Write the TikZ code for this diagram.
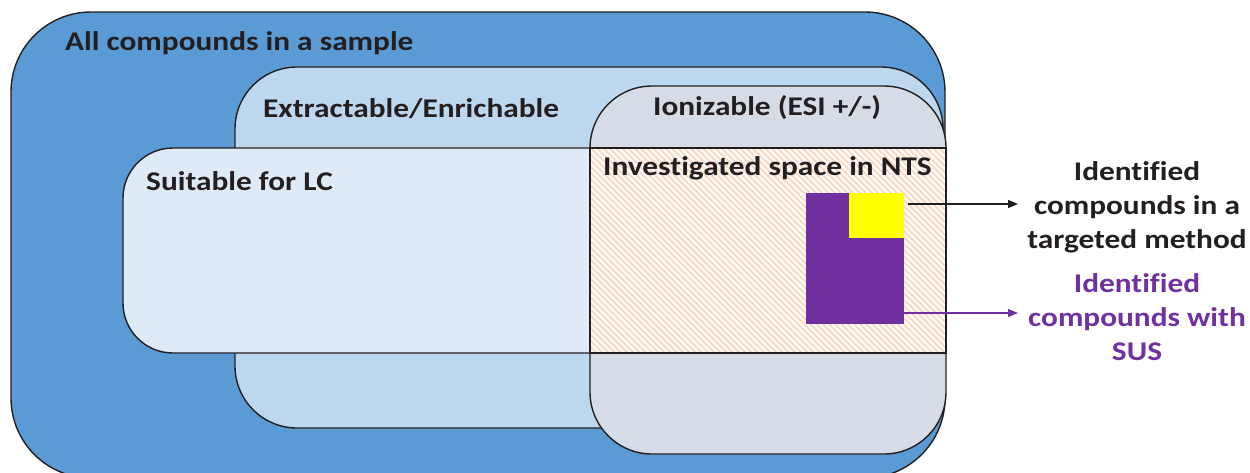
\documentclass[tikz,border=0pt]{standalone}
\usepackage{fontspec}
\setmainfont[FakeStretch=1.16, Ligatures={NoCommon,NoRare}]{Carlito}
\usetikzlibrary{patterns.meta,arrows.meta}
\definecolor{cout}{HTML}{5B9BD5}
\definecolor{cext}{HTML}{BDD7EE}
\definecolor{csuit}{HTML}{DEEBF7}
\definecolor{cion}{HTML}{D6DCE5}
\definecolor{cpur}{HTML}{7030A0}
\definecolor{cyel}{HTML}{FFFF00}
\definecolor{ctxt}{HTML}{231F20}
\definecolor{chatch}{HTML}{FADBC5}
\tikzset{
  setbox/.style={draw=ctxt, line width=1.4pt},
  lbl/.style={font=\bfseries\fontsize{27}{30}\selectfont, text=ctxt, inner sep=0pt, anchor=base west},
  side/.style={font=\bfseries\fontsize{27}{34}\selectfont, inner sep=0pt, align=center, anchor=north},
  arr/.style={line width=1.4pt, -{Triangle[length=10pt,width=8pt]}}
}
\begin{document}
\begin{tikzpicture}[x=1pt,y=-1pt]
\useasboundingbox (0,0) rectangle (1250,472);
% outer
\draw[setbox, fill=cout, rounded corners=80pt] (11,12) rectangle (945,478);
% extractable
\draw[setbox, fill=cext, rounded corners=62pt] (235,67) rectangle (943,428);
% suitable
\draw[setbox, fill=csuit, rounded corners=50pt] (123,148) rectangle (945,353);
% ionizable
\draw[setbox, fill=cion, rounded corners=62pt] (590,86) rectangle (946,454);
% investigated space
\fill[white] (590,148) rectangle (946,353);
\fill[pattern={Lines[angle=-45,distance=4.4pt,line width=2.2pt]}, pattern color=chatch] (590,148) rectangle (946,353);
\draw[setbox] (590,148) rectangle (946,353);
% labels
\node[lbl] (tall) at (65,50) {All compounds in a sample};
\node[lbl] (text) at (263,117) {Extractable/Enrichable};
\node[lbl] (tion) at (653,115) {Ionizable (ESI +/-)};
\node[lbl] (tinv) at (603,175) {Investigated space in NTS};
\node[lbl] (tsuit) at (146,190) {Suitable for LC};
% boxes
\node[fill=cpur, inner sep=0pt, minimum width=98pt, minimum height=131pt, anchor=north west] (pur) at (806,193) {};
\node[fill=cyel, inner sep=0pt, minimum width=55pt, minimum height=45pt, anchor=north east] (yel) at (904,193) {};
% side labels
\node[side, text=ctxt] (lab1) at (1137,161) {Identified\\compounds in a\\targeted method};
\node[side, text=cpur] (lab2) at (1137,273) {Identified\\compounds with\\SUS};
\coordinate (a1s) at (908,204);
\coordinate (a1e) at (1018,204);
\coordinate (a2s) at (904,313);
\coordinate (a2e) at (1018,313);
\draw[arr, ctxt] (a1s) -- (a1e);
\draw[arr, cpur] (a2s) -- (a2e);
\end{tikzpicture}
\end{document}
